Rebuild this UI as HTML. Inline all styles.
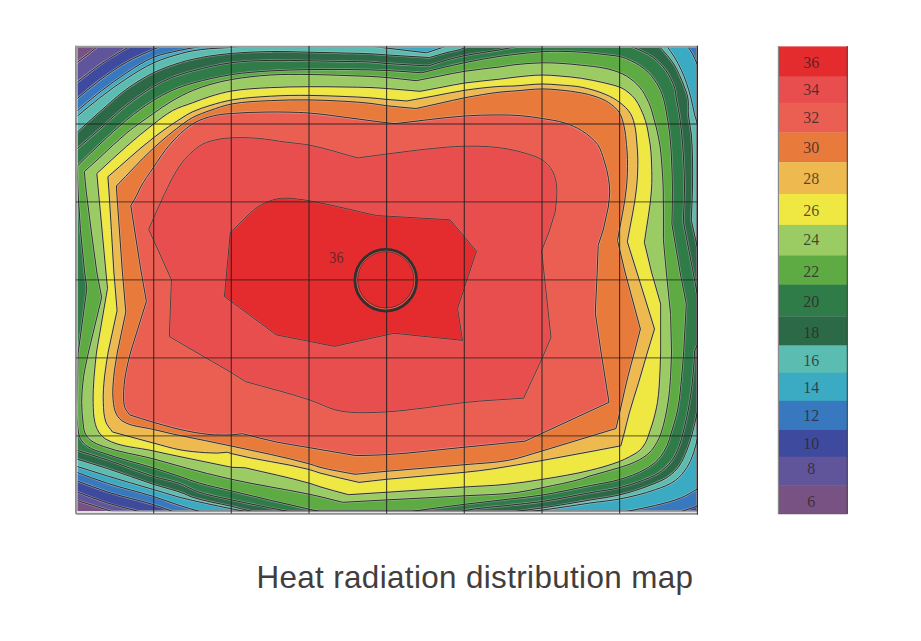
<!DOCTYPE html>
<html><head><meta charset="utf-8"><title>Heat radiation distribution map</title>
<style>
html,body{margin:0;padding:0;background:#fff}
body{width:921px;height:641px;position:relative;overflow:hidden}
.title{position:absolute;left:256.4px;top:559.6px;font-family:"Liberation Sans",sans-serif;font-size:31.4px;line-height:36px;letter-spacing:0.36px;color:#413e3d;white-space:nowrap}
</style></head><body>
<svg width="921" height="641" viewBox="0 0 921 641" style="position:absolute;left:0;top:0">
<defs><clipPath id="fr"><rect x="76.0" y="46.0" width="621.4" height="465.4"/></clipPath></defs>
<rect x="76.0" y="46.0" width="621.4" height="465.4" fill="#785283"/>
<defs>
<path id="c8" d="M76.0 63.2 C79.7 60.5 83.4 57.8 87.0 55.0 C90.7 52.1 94.3 49.0 98.0 46.0 L697.4 46.0 L697.4 511.4 L111.8 511.4 L76.0 500.1 L76.0 63.2Z"/>
<path id="c10" d="M76.0 83.2 C80.3 79.8 84.6 76.3 89.0 73.0 C93.6 69.5 98.2 66.0 103.0 62.8 C107.6 59.7 112.3 56.9 117.0 54.0 C121.5 51.3 126.1 48.7 130.7 46.0 L697.4 46.0 L697.4 511.4 L138.7 511.4 C128.3 508.6 117.8 506.2 107.5 503.0 C96.8 499.6 86.5 495.4 76.0 491.6 L76.0 83.2Z"/>
<path id="c12" d="M76.0 99.6 C84.0 93.1 91.7 86.1 100.0 80.0 C108.7 73.6 117.5 67.3 126.9 62.0 C135.5 57.1 144.7 53.3 153.7 49.3 C156.3 48.1 158.9 47.1 161.5 46.0 L697.4 46.0 L697.4 506.0 L681.7 511.4 L172.7 511.4 C166.4 509.2 160.1 506.7 153.7 504.7 C138.5 499.9 122.7 496.9 107.5 492.0 C96.9 488.6 86.5 484.3 76.0 480.5 L76.0 99.6Z"/>
<path id="c14" d="M76.0 111.9 C84.0 105.3 91.8 98.4 100.0 92.0 C108.7 85.2 117.6 78.6 126.9 72.6 C135.6 67.0 144.2 61.1 153.7 57.2 C162.1 53.8 171.2 52.3 180.0 50.3 C184.2 49.3 188.5 48.6 192.8 47.9 C196.9 47.2 200.9 46.6 205.0 46.0 L687.3 46.0 C689.0 48.7 691.0 51.2 692.5 54.0 C694.4 57.5 695.8 61.2 697.4 64.8 L697.4 489.0 C692.2 491.8 687.2 495.2 681.7 497.5 C673.3 501.0 664.3 503.2 655.5 505.4 C646.0 507.8 636.3 509.4 626.7 511.4 L199.5 511.4 C193.0 509.5 186.5 507.7 180.0 505.6 C171.2 502.8 162.5 499.3 153.7 496.5 C138.4 491.7 122.7 488.2 107.5 483.3 C96.9 479.9 86.5 475.8 76.0 472.0 L76.0 111.9Z"/>
<path id="c16" d="M76.0 117.2 C84.0 110.7 91.8 103.9 100.0 97.6 C108.8 90.9 117.6 84.3 126.9 78.3 C135.6 72.7 144.3 67.1 153.7 62.8 C162.4 58.9 171.6 56.2 180.7 53.6 C184.7 52.5 188.7 51.5 192.8 50.8 C198.0 49.9 203.2 49.3 208.4 48.8 C216.1 48.1 223.9 48.0 231.6 47.4 C236.1 47.0 240.5 46.5 245.0 46.0 L369.0 46.0 L426.4 52.8 L447.0 46.0 L666.8 46.0 C669.3 49.7 672.1 53.3 674.4 57.1 C677.0 61.3 679.3 65.7 681.4 70.2 C683.4 74.5 685.1 78.9 686.6 83.3 C688.3 88.2 689.7 93.1 691.0 98.1 C692.4 103.7 693.3 109.4 694.7 115.0 C695.5 118.0 696.5 121.0 697.4 124.0 L697.4 438.6 C696.1 443.4 695.2 448.3 693.5 453.0 C691.7 458.0 689.8 463.0 686.9 467.4 C683.7 472.3 679.9 477.0 675.2 480.5 C669.4 484.8 662.3 487.2 655.5 489.6 C643.8 493.8 631.7 496.6 619.5 499.0 C609.8 500.9 599.8 501.6 590.0 503.0 C574.1 505.3 558.2 508.1 542.2 510.1 C538.1 510.6 534.1 511.0 530.0 511.4 L245.0 511.4 C240.5 510.5 236.1 509.7 231.6 508.8 C214.4 505.2 197.1 501.8 180.0 497.4 C177.1 496.7 174.3 495.7 171.4 494.9 C165.5 493.2 159.6 491.4 153.7 489.6 C138.3 485.0 122.9 480.7 107.5 476.0 C97.0 472.8 86.5 469.4 76.0 466.1 L76.0 117.2Z"/>
<path id="c18" d="M76.0 133.2 C84.0 126.0 91.9 118.6 100.0 111.5 C108.8 103.8 117.4 95.7 126.9 88.9 C135.4 82.8 144.3 77.2 153.7 72.6 C162.3 68.4 171.5 65.3 180.7 62.4 C184.7 61.1 188.7 60.2 192.8 59.3 C198.0 58.1 203.2 57.0 208.4 56.2 C216.1 55.0 223.8 54.1 231.5 53.4 C244.5 52.3 257.6 51.7 270.6 51.5 C283.4 51.3 296.1 51.9 308.9 52.2 C320.9 52.4 333.0 52.7 345.0 53.0 C355.0 53.3 365.0 53.4 375.0 54.0 C378.8 54.2 382.6 54.6 386.4 54.9 C400.7 55.9 415.1 56.6 429.4 57.5 C435.3 55.8 441.1 54.1 447.0 52.5 C452.9 50.9 459.1 50.5 464.6 47.8 C465.5 47.4 466.2 46.6 467.0 46.0 L658.8 46.0 C661.7 49.1 664.7 52.1 667.4 55.4 C669.9 58.5 672.3 61.6 674.4 65.0 C676.4 68.3 678.0 71.9 679.6 75.4 C681.2 78.8 682.7 82.3 684.0 85.9 C685.5 89.9 687.2 93.9 687.9 98.1 C688.9 103.7 687.9 109.4 688.4 115.0 C689.0 121.4 690.7 127.6 691.3 134.0 C692.1 142.0 692.3 150.0 692.5 158.0 C692.7 168.0 692.7 178.0 692.5 188.0 C692.3 198.7 691.7 209.3 691.3 220.0 L697.4 247.6 L697.4 411.6 C695.7 419.1 694.3 426.6 692.2 434.0 C690.7 439.5 689.1 445.0 686.9 450.3 C684.7 455.7 682.5 461.3 679.1 466.1 C676.2 470.1 672.6 473.7 668.6 476.5 C662.7 480.6 655.7 483.1 649.0 485.7 C639.4 489.4 629.5 492.5 619.5 494.9 C609.9 497.2 600.0 498.3 590.3 500.0 C574.3 502.7 558.3 505.6 542.2 508.0 C533.3 509.3 524.3 510.3 515.4 511.4 L251.7 511.4 C245.0 509.7 238.3 508.0 231.6 506.4 C218.2 503.2 204.4 501.3 191.4 496.9 C188.8 496.0 186.5 494.5 184.0 493.6 C174.1 489.9 163.7 487.6 153.7 484.4 C138.2 479.4 123.0 473.6 107.5 468.6 C97.1 465.2 86.5 462.1 76.0 458.9 L76.0 133.2Z"/>
<path id="c20" d="M76.0 149.8 C84.0 142.8 92.0 135.8 100.0 128.8 C109.0 120.9 117.5 112.5 126.9 105.1 C135.5 98.4 144.3 91.9 153.7 86.4 C159.5 83.0 165.7 80.0 172.0 77.5 C178.8 74.8 185.8 72.8 192.8 70.9 C205.6 67.5 218.5 64.5 231.6 62.7 C244.5 61.0 257.6 60.7 270.6 60.4 C283.4 60.1 296.1 60.6 308.9 60.8 C320.9 61.0 333.0 61.3 345.0 61.5 C353.3 61.7 361.7 61.5 370.0 62.0 C375.5 62.3 380.9 63.1 386.4 63.5 C400.4 64.5 414.5 65.1 428.5 65.9 C434.0 64.1 439.4 62.1 445.0 60.5 C451.5 58.6 458.0 57.0 464.6 55.6 C476.3 53.2 488.2 51.9 500.0 49.8 C506.7 48.6 513.3 47.3 520.0 46.0 L630.0 46.0 C634.6 48.0 639.3 49.6 643.8 51.9 C646.8 53.4 649.8 55.1 652.6 57.1 C655.1 58.9 657.4 61.0 659.6 63.2 C661.8 65.4 663.9 67.7 665.7 70.2 C667.7 72.9 669.4 75.9 670.9 78.9 C672.4 82.0 673.9 85.2 674.8 88.5 C675.6 91.6 675.7 94.9 676.2 98.1 C677.1 103.8 678.5 109.3 679.4 115.0 C680.4 121.3 681.1 127.7 681.7 134.0 C682.5 142.0 683.1 150.0 683.5 158.0 C684.0 168.0 684.5 178.0 684.5 188.0 C684.5 199.1 683.7 210.3 683.3 221.4 L693.5 274.0 L697.4 295.0 L697.4 345.0 L694.8 350.0 C694.4 356.6 694.1 363.1 693.5 369.7 C692.5 380.6 691.4 391.6 689.6 402.4 C687.9 412.7 685.6 422.9 683.0 433.0 C681.9 437.5 680.8 442.1 679.1 446.4 C677.0 451.7 674.7 457.0 671.2 461.5 C667.6 466.1 663.0 470.1 658.1 473.3 C653.3 476.5 647.8 478.4 642.4 480.5 C634.9 483.4 627.3 485.8 619.5 487.7 C609.9 490.0 600.0 491.0 590.3 492.7 C574.3 495.5 558.3 499.1 542.2 501.5 C531.1 503.1 520.0 504.0 508.9 505.3 C494.1 507.0 479.2 507.8 464.6 510.5 C463.4 510.7 462.2 511.1 461.0 511.4 L288.0 511.4 C269.2 507.6 250.3 504.1 231.6 499.9 C220.3 497.4 208.8 495.5 197.9 491.7 C191.7 489.6 186.2 485.8 180.0 483.6 C171.5 480.5 162.4 479.2 153.7 476.5 C138.1 471.6 123.0 465.2 107.5 460.0 C97.1 456.5 86.5 453.3 76.0 450.0 L76.0 149.8Z"/>
<path id="c22" d="M77.1 166.3 C84.7 158.9 92.2 151.3 100.0 144.0 C108.8 135.8 117.5 127.4 126.9 119.8 C135.5 112.8 144.3 106.2 153.7 100.3 C159.6 96.6 165.7 93.3 172.0 90.5 C178.7 87.5 185.7 85.2 192.8 83.2 C205.5 79.6 218.5 76.7 231.6 74.6 C244.5 72.6 257.6 71.7 270.6 70.9 C283.3 70.1 296.1 69.8 308.9 69.6 C320.9 69.4 333.0 69.4 345.0 69.5 C353.3 69.6 361.7 69.7 370.0 69.9 C375.5 70.0 380.9 70.2 386.4 70.5 C398.1 71.1 409.9 72.0 421.6 72.8 C428.7 71.0 435.8 69.2 443.0 67.5 C450.2 65.8 457.4 64.2 464.6 62.7 C476.4 60.3 488.1 58.1 500.0 56.3 C504.6 55.6 509.3 55.0 514.0 54.5 C523.4 53.4 532.8 52.3 542.3 51.7 C548.2 51.3 554.1 51.2 560.0 51.3 C567.1 51.4 574.3 51.7 581.4 52.2 C589.6 52.8 597.8 53.7 605.9 54.7 C611.3 55.4 616.8 55.7 622.0 57.1 C625.0 57.9 627.9 59.3 630.7 60.6 C633.7 62.0 636.7 63.5 639.5 65.4 C642.6 67.5 645.6 69.8 648.2 72.4 C650.5 74.6 652.4 77.2 654.3 79.8 C655.9 82.0 657.4 84.4 658.7 86.8 C660.1 89.3 661.2 92.0 662.2 94.7 C663.4 98.1 664.2 101.5 665.0 105.0 C665.7 108.3 666.2 111.7 666.8 115.0 C667.9 121.3 669.0 127.6 669.7 134.0 C670.6 142.0 671.1 150.0 671.5 158.0 C672.0 168.0 672.3 178.0 672.4 188.0 C672.5 200.0 672.1 212.1 671.9 224.1 L680.0 272.0 L686.3 304.1 L683.7 352.0 C683.0 360.1 682.5 368.1 681.7 376.2 C680.6 387.2 679.9 398.2 677.8 409.0 C676.2 417.1 673.6 425.0 671.2 433.0 C670.0 437.1 669.1 441.3 667.3 445.1 C664.9 450.3 662.0 455.3 658.1 459.5 C654.4 463.5 649.8 466.6 645.0 469.3 C637.0 473.8 628.3 476.9 619.5 479.5 C610.0 482.4 600.0 483.5 590.3 485.5 C574.3 488.7 558.3 492.4 542.2 495.0 C531.2 496.8 520.0 497.8 508.9 499.1 C494.1 500.9 479.4 502.5 464.6 504.3 C446.8 506.5 429.0 509.0 411.2 511.4 L320.0 511.4 C316.4 510.7 312.8 510.0 309.2 509.2 C283.2 503.5 257.4 497.1 231.6 490.9 C220.9 488.3 210.1 486.2 199.5 483.1 C192.9 481.2 186.5 478.7 180.0 476.5 C171.3 473.6 162.5 470.7 153.7 468.0 C137.0 462.8 119.8 458.9 103.3 453.0 C98.0 451.1 92.2 449.7 87.6 446.4 C84.7 444.4 82.0 441.7 80.4 438.6 C78.3 434.5 78.1 429.6 77.6 425.0 C76.4 413.1 77.3 401.0 77.4 389.0 C77.5 377.3 77.8 365.7 78.0 354.0 L86.9 288.3 L84.5 271.0 L80.4 229.3 L78.2 195.0 L77.1 166.3Z"/>
<path id="c24" d="M84.3 171.6 C89.5 166.8 94.8 162.1 100.0 157.3 C109.0 149.1 117.5 140.5 126.9 132.8 C135.5 125.8 144.6 119.6 153.7 113.3 C159.7 109.1 165.7 104.7 172.0 101.0 C178.7 97.1 185.7 93.5 192.8 90.5 C198.4 88.1 204.2 86.2 210.0 84.5 C217.1 82.4 224.3 80.8 231.6 79.5 C244.5 77.3 257.5 75.8 270.6 75.0 C283.3 74.2 296.1 74.4 308.9 74.5 C320.9 74.6 333.0 75.1 345.0 75.5 C353.3 75.8 361.7 76.0 370.0 76.4 C375.5 76.7 380.9 77.0 386.4 77.5 C396.3 78.4 406.2 79.6 416.1 80.7 C424.1 79.1 432.0 77.5 440.0 76.0 C448.2 74.4 456.4 72.6 464.6 71.3 C476.3 69.4 488.2 68.5 500.0 66.9 C504.7 66.3 509.3 65.3 514.0 64.8 C523.4 63.8 532.8 63.0 542.3 62.8 C548.2 62.7 554.1 63.0 560.0 63.3 C567.1 63.7 574.3 64.4 581.4 65.2 C589.6 66.1 597.9 66.7 605.9 68.5 C611.4 69.7 616.9 71.4 622.0 73.7 C625.1 75.1 628.0 76.9 630.7 78.9 C632.9 80.5 634.9 82.3 636.8 84.2 C638.7 86.1 640.5 88.1 642.1 90.3 C643.8 92.7 645.2 95.4 646.5 98.1 C648.0 101.0 649.4 103.9 650.5 107.0 C651.7 110.3 652.5 113.7 653.4 117.0 C654.4 120.7 655.5 124.3 656.4 128.0 C657.8 134.0 659.1 139.9 660.0 146.0 C660.9 152.0 661.3 158.0 661.8 164.0 C662.4 172.0 663.0 180.0 663.2 188.0 C663.7 205.3 663.3 222.5 663.4 239.8 L666.3 272.0 L670.6 314.5 L671.5 352.0 C671.2 360.1 671.1 368.1 670.6 376.2 C670.0 385.0 669.4 393.7 668.0 402.4 C666.3 412.7 664.4 423.1 661.1 433.0 C660.0 436.3 658.6 439.5 656.8 442.5 C654.6 446.3 652.2 450.0 649.0 453.0 C645.2 456.6 640.6 459.2 635.9 461.5 C630.7 464.1 625.0 465.8 619.5 467.6 C609.8 470.8 599.7 472.8 590.0 475.9 C587.3 476.7 584.8 477.9 582.1 478.7 C569.0 482.5 555.5 484.9 542.2 487.7 C533.8 489.4 525.5 491.4 517.0 492.5 C499.6 494.7 482.1 494.8 464.6 495.8 C438.5 497.3 412.5 498.5 386.4 499.9 C371.9 500.7 357.3 501.5 342.8 502.3 C335.2 500.4 327.6 498.4 320.0 496.6 C316.4 495.8 312.8 494.9 309.2 494.2 C283.4 488.9 257.3 485.0 231.6 479.3 C215.6 475.8 199.8 471.6 184.0 467.4 C173.9 464.7 163.8 461.6 153.7 458.9 C137.0 454.5 119.5 452.4 103.3 446.4 C98.7 444.7 94.0 443.0 90.2 439.9 C88.0 438.1 86.2 435.6 85.0 433.0 C83.5 429.6 83.5 425.8 83.0 422.1 C82.2 415.6 81.7 409.0 81.7 402.4 C81.7 393.6 82.5 384.9 83.7 376.2 C84.8 368.1 86.9 360.1 88.5 352.0 L101.7 297.5 L96.8 272.0 C93.3 245.3 89.4 218.7 86.3 192.0 C85.5 185.2 85.0 178.4 84.3 171.6Z"/>
<path id="c26" d="M96.8 173.5 C106.8 164.3 116.6 154.9 126.9 146.0 C135.6 138.4 144.5 130.9 153.7 123.9 C159.9 119.2 165.9 114.2 172.7 110.5 C179.0 107.1 186.1 105.2 192.8 102.7 C198.5 100.6 204.2 98.3 210.0 96.5 C217.1 94.3 224.3 92.2 231.6 91.0 C244.5 88.8 257.6 88.3 270.6 87.6 C283.4 86.9 296.1 86.8 308.9 86.7 C320.9 86.6 333.0 86.8 345.0 87.0 C353.3 87.1 361.7 87.2 370.0 87.5 C375.5 87.7 380.9 88.1 386.4 88.5 C397.6 89.3 408.8 90.4 420.0 91.3 C427.3 89.9 434.7 88.6 442.0 87.2 C449.5 85.8 457.0 84.1 464.6 83.0 C476.3 81.3 488.2 80.5 500.0 79.1 C504.7 78.5 509.3 77.8 514.0 77.3 C523.4 76.3 532.8 75.1 542.3 75.0 C548.2 74.9 554.1 75.5 560.0 76.0 C567.2 76.6 574.3 77.2 581.4 78.3 C589.6 79.6 597.8 81.2 605.9 83.2 C611.3 84.6 616.9 85.7 622.0 88.1 C624.5 89.3 626.8 91.1 629.0 92.9 C631.2 94.7 633.4 96.7 635.1 99.0 C637.3 101.9 639.0 105.1 640.5 108.4 C643.0 113.6 645.1 119.1 646.6 124.7 C647.8 128.9 648.2 133.4 649.0 137.7 C649.5 140.5 650.1 143.2 650.4 146.0 C651.1 152.0 651.4 158.0 651.6 164.0 C651.9 172.7 652.1 181.4 651.5 190.0 C650.3 207.6 646.8 224.9 644.4 242.4 L651.5 272.0 L660.7 304.1 L660.7 352.0 C660.5 357.9 660.4 363.8 660.1 369.7 C659.5 380.6 659.2 391.6 657.5 402.4 C656.3 409.7 654.4 416.9 652.3 424.0 C651.5 426.7 650.5 429.3 649.6 432.0 C648.5 435.1 647.8 438.3 646.3 441.2 C644.6 444.5 642.5 447.7 639.8 450.3 C636.8 453.1 632.9 454.9 629.3 456.9 C626.1 458.6 622.9 460.2 619.5 461.5 C610.0 465.1 600.2 467.9 590.3 470.3 C574.4 474.2 558.3 476.8 542.2 479.4 C530.0 481.4 517.9 483.2 505.6 484.4 C492.0 485.8 478.3 486.1 464.6 487.0 C438.5 488.7 412.5 490.6 386.4 492.3 C373.8 493.1 361.1 493.9 348.5 494.7 C339.0 492.1 329.4 489.7 320.0 486.8 C316.4 485.7 312.8 484.2 309.2 483.2 C288.1 477.2 266.5 472.9 245.1 467.8 L231.6 467.3 C215.7 464.0 199.9 460.8 184.0 457.5 C173.9 455.4 163.8 453.3 153.7 451.0 C137.7 447.3 120.2 447.3 105.9 439.2 C102.9 437.5 100.6 434.8 98.7 432.0 C96.8 429.0 95.6 425.6 94.8 422.1 C93.3 415.7 93.3 409.0 93.1 402.4 C92.9 393.7 93.5 384.9 94.1 376.2 C94.7 368.1 95.7 360.1 96.5 352.0 L107.5 288.3 L105.8 271.0 C103.3 244.0 100.8 217.0 98.3 190.0 C97.8 184.5 97.3 179.0 96.8 173.5Z"/>
<path id="c28" d="M107.9 176.8 C123.2 163.7 137.8 149.9 153.7 137.6 C163.4 130.1 173.6 123.1 184.0 116.6 C186.8 114.8 189.7 113.1 192.8 111.7 C198.3 109.2 204.2 107.3 210.0 105.5 C217.1 103.3 224.3 101.3 231.6 100.0 C244.5 97.7 257.6 97.0 270.6 96.2 C283.3 95.4 296.1 95.3 308.9 95.4 C320.9 95.5 333.0 96.0 345.0 96.5 C353.3 96.8 361.7 97.2 370.0 97.8 C375.5 98.2 380.9 98.9 386.4 99.4 C393.2 100.0 399.9 100.5 406.7 101.0 C416.1 99.3 425.6 97.5 435.0 95.8 C444.9 94.0 454.7 91.8 464.6 90.3 C476.3 88.6 488.2 87.2 500.0 86.4 C504.7 86.1 509.3 86.2 514.0 86.0 C523.4 85.5 532.8 84.1 542.3 84.0 C548.2 84.0 554.1 84.5 560.0 85.0 C567.1 85.6 574.4 85.8 581.4 87.2 C589.8 88.9 598.1 91.2 605.9 94.6 C610.9 96.7 615.7 99.4 620.0 102.7 C623.9 105.7 627.7 109.1 630.3 113.3 C633.0 117.7 634.1 122.9 635.2 127.9 C636.1 131.9 636.2 136.0 636.6 140.0 C637.1 146.0 637.7 152.0 637.8 158.0 C637.9 168.0 637.6 178.0 636.5 188.0 C634.6 206.1 630.4 223.8 627.3 241.7 L636.8 272.0 L654.5 329.0 L647.5 352.0 C644.5 362.3 641.6 372.6 638.5 382.8 C635.5 392.9 632.1 402.8 629.3 412.9 C627.5 419.2 626.2 425.6 624.5 432.0 C623.3 436.6 622.0 441.2 620.8 445.8 C610.5 447.8 600.3 449.8 590.0 451.7 C574.0 454.7 558.0 457.6 542.0 460.5 C525.5 463.3 509.1 466.5 492.6 468.9 C483.3 470.3 474.0 471.3 464.6 472.3 C438.6 475.0 412.4 476.7 386.4 479.3 C377.3 480.2 368.2 481.4 359.1 482.4 C346.1 479.3 332.9 476.6 320.0 473.0 C316.4 472.0 312.9 470.5 309.2 469.5 C283.7 462.8 257.1 460.3 231.6 453.6 C230.1 453.2 228.7 452.7 227.2 452.2 L217.5 453.1 C213.1 452.9 208.8 452.9 204.4 452.6 C196.2 452.0 188.1 451.3 180.0 449.8 C171.1 448.2 162.5 445.4 153.7 443.1 C139.9 439.5 126.2 435.7 112.5 432.0 C110.3 428.7 107.3 425.8 105.9 422.1 C103.6 415.9 103.6 409.0 103.3 402.4 C102.9 393.7 103.7 384.9 104.6 376.2 C105.4 368.1 107.0 360.1 108.2 352.0 L117.1 310.6 L113.8 271.0 C112.2 244.0 110.7 217.0 108.9 190.0 C108.6 185.6 108.2 181.2 107.9 176.8Z"/>
<path id="c30" d="M116.4 186.0 C128.8 173.3 140.6 160.0 153.7 148.0 C163.3 139.2 173.4 130.8 184.0 123.1 C186.8 121.0 189.7 119.0 192.8 117.4 C198.3 114.6 204.2 112.5 210.0 110.5 C217.1 108.0 224.2 105.4 231.6 104.0 C244.4 101.5 257.6 101.3 270.6 100.6 C283.4 99.9 296.1 99.8 308.9 99.9 C320.9 100.0 333.0 100.6 345.0 101.3 C353.3 101.8 361.7 102.4 370.0 103.3 C375.5 103.9 380.9 105.0 386.4 105.7 C396.3 106.9 406.2 107.6 416.1 108.5 C424.1 106.7 432.0 105.0 440.0 103.2 C448.2 101.4 456.4 99.4 464.6 97.8 C476.3 95.6 488.1 93.5 500.0 92.1 C504.6 91.5 509.3 91.4 514.0 91.0 C523.4 90.3 532.8 89.0 542.3 88.9 C548.2 88.9 554.1 89.4 560.0 90.0 C567.2 90.7 574.3 91.5 581.4 92.9 C586.0 93.8 590.5 94.8 594.9 96.3 C599.5 97.9 604.2 99.6 608.3 102.3 C612.4 105.0 616.5 108.3 619.2 112.4 C621.9 116.6 623.0 121.7 624.1 126.5 C625.5 132.5 625.9 138.6 626.5 144.7 C627.0 149.6 627.4 154.4 627.5 159.3 C627.6 168.9 627.4 178.5 626.4 188.0 C624.6 205.6 620.5 222.9 617.5 240.4 L625.0 272.0 L640.4 329.0 L634.5 352.0 C632.3 360.1 630.0 368.1 628.0 376.2 C625.6 385.8 623.6 395.4 621.4 405.0 C619.6 412.8 617.8 420.7 616.0 428.5 L542.0 451.0 C530.9 454.1 520.0 458.2 508.6 460.3 C494.1 463.0 479.3 463.3 464.6 464.7 C438.6 467.1 412.5 469.0 386.4 471.3 C375.9 472.2 365.5 473.3 355.0 474.3 C343.3 472.0 331.5 470.3 320.0 467.3 C316.3 466.3 312.8 464.8 309.2 463.8 C283.6 456.8 257.5 451.7 231.6 446.1 C214.4 442.4 197.2 439.0 180.0 435.5 C177.6 435.0 175.1 434.5 172.7 434.0 C166.3 432.6 160.0 431.1 153.7 429.5 C143.4 426.9 132.1 426.9 123.0 421.4 C120.2 419.7 117.9 417.1 116.4 414.2 C114.1 409.8 113.6 404.7 113.1 399.8 C112.3 392.0 113.1 384.0 113.8 376.2 C114.5 368.1 116.2 360.1 117.4 352.0 L125.8 311.9 L122.3 271.0 L116.9 195.0 L116.4 186.0Z"/>
<path id="c32" d="M130.8 205.7 C133.0 201.8 135.4 198.0 137.4 194.0 C138.4 192.1 139.0 190.1 140.0 188.2 C144.0 180.8 149.0 174.0 153.7 167.0 C158.7 159.6 163.5 152.0 169.3 145.2 C174.1 139.6 179.2 134.2 185.0 129.5 C189.2 126.1 193.7 123.0 198.6 120.7 C204.8 117.9 211.5 116.2 218.2 114.9 C222.6 114.0 227.1 113.8 231.5 113.5 C243.3 112.6 255.2 112.1 267.0 112.0 C281.0 111.9 295.0 112.0 309.0 113.0 C322.4 114.0 335.7 116.1 349.1 117.8 C361.7 119.4 374.2 121.3 386.8 122.8 C389.5 123.1 392.3 123.4 395.0 123.7 C405.8 122.4 416.5 121.0 427.3 119.8 C439.7 118.4 452.0 116.8 464.4 116.0 C475.8 115.2 487.2 114.9 498.6 114.9 C506.1 114.9 513.7 115.1 521.2 115.7 C528.3 116.3 535.3 117.3 542.3 118.5 C549.9 119.8 557.7 120.7 565.1 123.1 C570.8 124.9 576.3 127.4 581.4 130.4 C584.9 132.5 588.1 135.0 591.2 137.7 C593.5 139.8 596.0 141.9 597.7 144.5 C600.9 149.4 602.4 155.2 604.2 160.8 C606.0 166.6 607.5 172.4 608.5 178.4 C609.2 182.9 609.7 187.4 609.7 192.0 C609.7 197.0 608.8 202.0 608.3 207.0 L603.2 230.0 L598.2 245.3 L597.2 272.0 L595.3 313.0 L601.0 352.0 L609.0 402.3 L525.0 441.2 C504.9 443.2 484.7 445.2 464.6 447.2 C438.5 449.7 412.5 453.1 386.4 454.7 C376.2 455.3 366.0 455.3 355.8 455.6 C343.9 453.6 331.9 451.6 320.0 449.5 C316.4 448.9 312.8 448.2 309.2 447.6 C298.4 445.7 287.5 444.3 276.8 442.1 C265.3 439.7 254.0 436.5 242.6 433.7 L231.5 434.9 C225.8 434.9 220.0 435.3 214.3 434.9 C205.8 434.3 197.3 433.0 188.9 431.4 C177.0 429.1 165.3 425.7 153.7 422.4 C145.6 420.1 137.6 417.3 129.5 414.8 C128.0 412.4 125.8 410.3 124.9 407.6 C123.6 403.9 123.6 399.8 123.6 395.9 C123.5 388.4 124.4 381.0 125.6 373.6 C126.8 366.3 128.9 359.2 130.6 352.0 L146.4 301.3 L141.0 271.0 L130.8 205.7Z"/>
<path id="c34" d="M148.7 229.3 C153.9 217.7 158.6 205.9 164.2 194.5 C168.8 185.1 173.2 175.4 179.1 166.7 C182.5 161.7 186.4 157.1 190.8 153.0 C194.4 149.7 198.2 146.4 202.5 144.2 C207.4 141.7 212.8 140.4 218.2 139.3 C222.6 138.4 227.0 138.0 231.5 137.8 C240.1 137.4 248.7 137.6 257.3 138.3 C267.1 139.0 276.8 140.9 286.6 142.2 C294.4 143.2 302.3 143.7 310.0 145.2 C326.2 148.4 341.9 153.7 357.9 157.9 C367.5 156.6 377.2 155.3 386.8 154.0 C397.0 152.7 407.3 151.3 417.5 150.1 C427.3 149.0 437.0 147.9 446.8 147.1 C452.7 146.7 458.5 146.3 464.4 146.2 C472.6 146.1 480.8 146.1 488.9 146.7 C495.4 147.2 502.0 147.9 508.4 149.1 C515.0 150.3 521.5 151.9 527.9 154.0 C532.7 155.6 537.7 157.0 542.0 159.8 C545.2 161.9 548.2 164.6 550.4 167.7 C552.7 170.9 554.2 174.6 555.3 178.4 C556.5 182.8 556.8 187.5 556.9 192.1 C557.0 198.6 555.8 205.1 555.3 211.6 L549.0 232.0 L541.6 250.7 L551.0 337.5 L542.0 358.6 L523.6 398.2 C503.9 399.6 484.1 400.4 464.4 402.5 C452.0 403.8 439.7 406.1 427.3 407.6 C413.8 409.2 400.4 411.1 386.8 411.9 C374.3 412.6 361.6 413.2 349.1 412.2 C344.5 411.8 339.9 411.1 335.4 409.9 C326.6 407.5 318.6 403.0 310.0 400.1 C288.8 393.0 267.0 387.8 245.5 381.6 L231.5 372.8 L169.3 336.6 L171.4 279.8 L148.7 229.3Z"/>
<path id="c36" d="M230.3 232.2 C232.8 229.9 235.3 227.6 237.7 225.3 C241.7 221.5 245.2 217.2 249.4 213.6 C253.1 210.4 256.9 207.2 261.2 204.8 C264.9 202.7 268.9 201.1 272.9 199.9 C275.4 199.1 278.1 198.5 280.7 198.3 C285.9 197.9 291.1 198.4 296.3 198.9 C300.9 199.3 305.5 200.1 310.0 200.9 C332.3 205.0 354.3 210.6 376.4 215.5 L450.2 219.8 L476.5 251.1 L457.6 308.4 L462.5 340.4 L394.0 333.3 L334.4 346.4 L276.0 334.8 L224.4 296.5 L230.3 232.2Z"/>
</defs>
<g clip-path="url(#fr)" stroke="none">
<use href="#c8" fill="#60549A"/>
<use href="#c10" fill="#3E4A9D"/>
<use href="#c12" fill="#3878BE"/>
<use href="#c14" fill="#3BABC4"/>
<use href="#c16" fill="#5BBDB1"/>
<use href="#c18" fill="#2C6947"/>
<use href="#c20" fill="#2F7C48"/>
<use href="#c22" fill="#5EAB44"/>
<use href="#c24" fill="#9BCB63"/>
<use href="#c26" fill="#EFE843"/>
<use href="#c28" fill="#EEBA4F"/>
<use href="#c30" fill="#E87A3C"/>
<use href="#c32" fill="#EB5F53"/>
<use href="#c34" fill="#E94E4E"/>
<use href="#c36" fill="#E42B2E"/>
</g>
<g clip-path="url(#fr)" fill="none" stroke="#d0d0d0" stroke-opacity="0.5" stroke-width="2.3" stroke-linejoin="round">
<use href="#c8"/>
<use href="#c10"/>
<use href="#c12"/>
<use href="#c14"/>
<use href="#c16"/>
<use href="#c18"/>
<use href="#c20"/>
<use href="#c22"/>
<use href="#c24"/>
<use href="#c26"/>
<use href="#c28"/>
<use href="#c30"/>
<use href="#c32"/>
</g>
<g clip-path="url(#fr)" fill="none" stroke="#c8c8c8" stroke-opacity="0.35" stroke-width="1.5" stroke-linejoin="round">
<use href="#c34"/>
<use href="#c36"/>
</g>
<g clip-path="url(#fr)" fill="none" stroke="#262626" stroke-width="0.95" stroke-linejoin="round">
<use href="#c8"/>
<use href="#c10"/>
<use href="#c12"/>
<use href="#c14"/>
<use href="#c16"/>
<use href="#c18"/>
<use href="#c20"/>
<use href="#c22"/>
<use href="#c24"/>
<use href="#c26"/>
<use href="#c28"/>
<use href="#c30"/>
<use href="#c32"/>
</g>
<g clip-path="url(#fr)" fill="none" stroke="#2c2c2c" stroke-width="0.8" stroke-linejoin="round">
<use href="#c34"/>
<use href="#c36"/>
</g>
<rect x="74" y="511.5" width="625" height="1.4" fill="#fff"/>
<rect x="74" y="46" width="3.4" height="468" fill="#fff"/>
<path d="M75.95 45.7 V512.8 Q75.95 513.8 76.95 513.8 H697.8" fill="none" stroke="#8e8e8e" stroke-width="1.9"/>
<line x1="75" y1="46.75" x2="698" y2="46.75" stroke="#9a9a9a" stroke-width="2.1"/>
<line x1="697.4" y1="45.7" x2="697.4" y2="514.6" stroke="#262626" stroke-width="0.95"/>
<g stroke="#1e1e1e" fill="none">
<line x1="76.0" y1="124.0" x2="697.4" y2="124.0" stroke-width="1.3" stroke-opacity="0.6"/>
<line x1="76.0" y1="201.9" x2="697.4" y2="201.9" stroke-width="1.3" stroke-opacity="0.6"/>
<line x1="76.0" y1="279.9" x2="697.4" y2="279.9" stroke-width="1.3" stroke-opacity="0.6"/>
<line x1="76.0" y1="357.8" x2="697.4" y2="357.8" stroke-width="1.3" stroke-opacity="0.6"/>
<line x1="76.0" y1="435.8" x2="697.4" y2="435.8" stroke-width="1.3" stroke-opacity="0.6"/>
<line x1="153.7" y1="46.0" x2="153.7" y2="513.6" stroke-width="1.1" stroke-opacity="0.85"/>
<line x1="231.3" y1="46.0" x2="231.3" y2="513.6" stroke-width="1.1" stroke-opacity="0.85"/>
<line x1="309.0" y1="46.0" x2="309.0" y2="513.6" stroke-width="1.1" stroke-opacity="0.85"/>
<line x1="386.6" y1="46.0" x2="386.6" y2="513.6" stroke-width="1.1" stroke-opacity="0.85"/>
<line x1="464.3" y1="46.0" x2="464.3" y2="513.6" stroke-width="1.1" stroke-opacity="0.85"/>
<line x1="542.0" y1="46.0" x2="542.0" y2="513.6" stroke-width="1.1" stroke-opacity="0.85"/>
<line x1="619.6" y1="46.0" x2="619.6" y2="513.6" stroke-width="1.1" stroke-opacity="0.85"/>
</g>
<circle cx="385.8" cy="280.3" r="30.8" fill="none" stroke="#303030" stroke-width="2.8"/>
<circle cx="385.8" cy="280.0" r="28.95" fill="none" stroke="#d9a470" stroke-width="0.6" stroke-opacity="0.85"/>
<circle cx="385.8" cy="279.75" r="28.2" fill="none" stroke="#303030" stroke-width="0.75" stroke-opacity="0.85"/>
<text transform="translate(336.4 262.6) scale(0.94 1.06)" text-anchor="middle" font-family="'Liberation Serif',serif" font-size="15" fill="#3a2020" fill-opacity="0.72">36</text>
<rect x="778.4" y="46.4" width="68.9" height="30.5" fill="#E42B2E"/>
<text transform="translate(811.3 67.8) scale(1.04 1.08)" text-anchor="middle" font-family="'Liberation Serif',serif" font-size="15.4" fill="#2e2424" fill-opacity="0.78">36</text>
<rect x="778.4" y="76.6" width="68.9" height="26.6" fill="#E94E4E"/>
<text transform="translate(811.3 94.7) scale(1.04 1.08)" text-anchor="middle" font-family="'Liberation Serif',serif" font-size="15.4" fill="#2e2424" fill-opacity="0.78">34</text>
<rect x="778.4" y="102.9" width="68.9" height="29.9" fill="#EB5F53"/>
<text transform="translate(811.3 123.3) scale(1.04 1.08)" text-anchor="middle" font-family="'Liberation Serif',serif" font-size="15.4" fill="#2e2424" fill-opacity="0.78">32</text>
<rect x="778.4" y="132.5" width="68.9" height="30.0" fill="#E87A3C"/>
<text transform="translate(811.3 152.7) scale(1.04 1.08)" text-anchor="middle" font-family="'Liberation Serif',serif" font-size="15.4" fill="#2e2424" fill-opacity="0.78">30</text>
<rect x="778.4" y="162.2" width="68.9" height="32.1" fill="#EEBA4F"/>
<text transform="translate(811.3 184.2) scale(1.04 1.08)" text-anchor="middle" font-family="'Liberation Serif',serif" font-size="15.4" fill="#2e2424" fill-opacity="0.78">28</text>
<rect x="778.4" y="194.0" width="68.9" height="31.2" fill="#EFE843"/>
<text transform="translate(811.3 215.7) scale(1.04 1.08)" text-anchor="middle" font-family="'Liberation Serif',serif" font-size="15.4" fill="#2e2424" fill-opacity="0.78">26</text>
<rect x="778.4" y="224.9" width="68.9" height="30.7" fill="#9BCB63"/>
<text transform="translate(811.3 245.2) scale(1.04 1.08)" text-anchor="middle" font-family="'Liberation Serif',serif" font-size="15.4" fill="#2e2424" fill-opacity="0.78">24</text>
<rect x="778.4" y="255.3" width="68.9" height="29.6" fill="#5EAB44"/>
<text transform="translate(811.3 276.8) scale(1.04 1.08)" text-anchor="middle" font-family="'Liberation Serif',serif" font-size="15.4" fill="#2e2424" fill-opacity="0.78">22</text>
<rect x="778.4" y="284.6" width="68.9" height="32.1" fill="#2F7C48"/>
<text transform="translate(811.3 307.3) scale(1.04 1.08)" text-anchor="middle" font-family="'Liberation Serif',serif" font-size="15.4" fill="#2e2424" fill-opacity="0.78">20</text>
<rect x="778.4" y="316.4" width="68.9" height="29.4" fill="#2C6947"/>
<text transform="translate(811.3 337.6) scale(1.04 1.08)" text-anchor="middle" font-family="'Liberation Serif',serif" font-size="15.4" fill="#2e2424" fill-opacity="0.78">18</text>
<rect x="778.4" y="345.5" width="68.9" height="27.5" fill="#5BBDB1"/>
<text transform="translate(811.3 365.8) scale(1.04 1.08)" text-anchor="middle" font-family="'Liberation Serif',serif" font-size="15.4" fill="#2e2424" fill-opacity="0.78">16</text>
<rect x="778.4" y="372.7" width="68.9" height="28.4" fill="#3BABC4"/>
<text transform="translate(811.3 393.0) scale(1.04 1.08)" text-anchor="middle" font-family="'Liberation Serif',serif" font-size="15.4" fill="#2e2424" fill-opacity="0.78">14</text>
<rect x="778.4" y="400.8" width="68.9" height="28.9" fill="#3878BE"/>
<text transform="translate(811.3 420.7) scale(1.04 1.08)" text-anchor="middle" font-family="'Liberation Serif',serif" font-size="15.4" fill="#2e2424" fill-opacity="0.78">12</text>
<rect x="778.4" y="429.4" width="68.9" height="27.6" fill="#3E4A9D"/>
<text transform="translate(811.3 448.8) scale(1.04 1.08)" text-anchor="middle" font-family="'Liberation Serif',serif" font-size="15.4" fill="#2e2424" fill-opacity="0.78">10</text>
<rect x="778.4" y="456.7" width="68.9" height="28.7" fill="#60549A"/>
<text transform="translate(811.3 474.1) scale(1.04 1.08)" text-anchor="middle" font-family="'Liberation Serif',serif" font-size="15.4" fill="#2e2424" fill-opacity="0.78">8</text>
<rect x="778.4" y="485.1" width="68.9" height="28.8" fill="#785283"/>
<text transform="translate(811.3 506.6) scale(1.04 1.08)" text-anchor="middle" font-family="'Liberation Serif',serif" font-size="15.4" fill="#2e2424" fill-opacity="0.78">6</text>
<line x1="778.4" y1="46" x2="778.4" y2="514" stroke="#8a8a8a" stroke-width="1.2"/>
<line x1="847.3" y1="46" x2="847.3" y2="514" stroke="#333" stroke-width="1"/>
<line x1="778.4" y1="513.8" x2="847.3" y2="513.8" stroke="#555" stroke-width="0.8"/>
</svg>
<div class="title">Heat radiation distribution map</div>
</body></html>
